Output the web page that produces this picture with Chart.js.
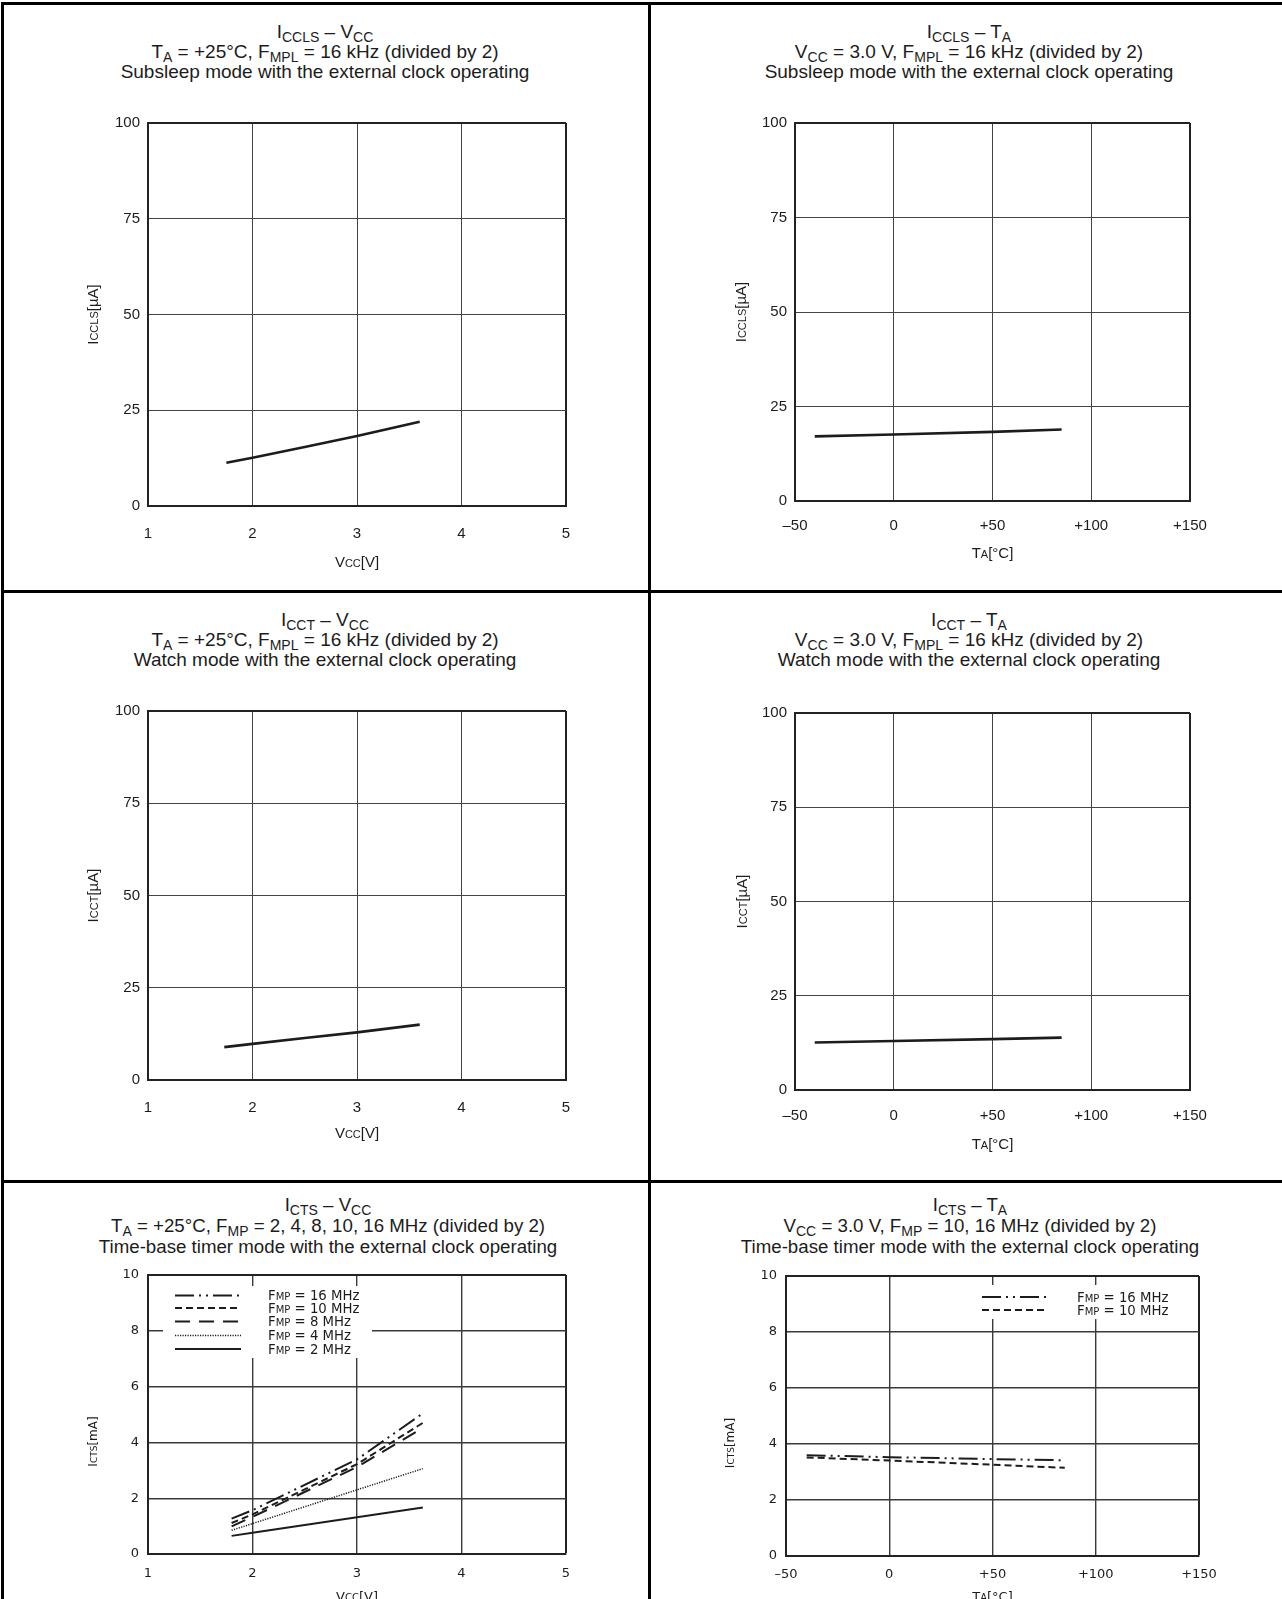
<!DOCTYPE html>
<html>
<head>
<meta charset="utf-8">
<title>ICC characteristics</title>
<script src="https://cdn.jsdelivr.net/npm/chart.js@4.4.1/dist/chart.umd.min.js"></script>
<style>
  html, body { margin: 0; padding: 0; background: #fff; }
  body { position: relative; width: 1282px; height: 1599px; overflow: hidden;
         font-family: "Liberation Sans", Arial, Helvetica, sans-serif; color: #1c1c1c; }
  .rule { position: absolute; background: #000; }
  .ttl { position: absolute; width: 620px; text-align: center; font-size: 19px; line-height: 20px; white-space: nowrap; }
  .ttl sub { font-size: 14px; line-height: 0; vertical-align: -4px; }
  .small { font-size: 18.7px; }
  canvas { position: absolute; }
</style>
</head>
<body>
<!-- table rules -->
<div class="rule" style="left:1px;top:2px;width:1281px;height:3px"></div>
<div class="rule" style="left:1px;top:2px;width:3px;height:1597px"></div>
<div class="rule" style="left:648px;top:2px;width:3px;height:1597px"></div>
<div class="rule" style="left:1px;top:590px;width:1281px;height:3px"></div>
<div class="rule" style="left:1px;top:1180px;width:1281px;height:3px"></div>

<!-- row 1 -->
<div class="ttl" style="left:15px;top:22px">I<sub>CCLS</sub> – V<sub>CC</sub></div>
<div class="ttl" style="left:15px;top:42px">T<sub>A</sub> = +25°C, F<sub>MPL</sub> = 16 kHz (divided by 2)</div>
<div class="ttl" style="left:15px;top:62px">Subsleep mode with the external clock operating</div>
<div class="ttl" style="left:659px;top:22px">I<sub>CCLS</sub> – T<sub>A</sub></div>
<div class="ttl" style="left:659px;top:42px">V<sub>CC</sub> = 3.0 V, F<sub>MPL</sub> = 16 kHz (divided by 2)</div>
<div class="ttl" style="left:659px;top:62px">Subsleep mode with the external clock operating</div>
<!-- row 2 -->
<div class="ttl" style="left:15px;top:610px">I<sub>CCT</sub> – V<sub>CC</sub></div>
<div class="ttl" style="left:15px;top:630px">T<sub>A</sub> = +25°C, F<sub>MPL</sub> = 16 kHz (divided by 2)</div>
<div class="ttl" style="left:15px;top:650px">Watch mode with the external clock operating</div>
<div class="ttl" style="left:659px;top:610px">I<sub>CCT</sub> – T<sub>A</sub></div>
<div class="ttl" style="left:659px;top:630px">V<sub>CC</sub> = 3.0 V, F<sub>MPL</sub> = 16 kHz (divided by 2)</div>
<div class="ttl" style="left:659px;top:650px">Watch mode with the external clock operating</div>
<!-- row 3 -->
<div class="ttl small" style="left:18px;top:1195px">I<sub>CTS</sub> – V<sub>CC</sub></div>
<div class="ttl small" style="left:18px;top:1216px">T<sub>A</sub> = +25°C, F<sub>MP</sub> = 2, 4, 8, 10, 16 MHz (divided by 2)</div>
<div class="ttl small" style="left:18px;top:1237px">Time-base timer mode with the external clock operating</div>
<div class="ttl small" style="left:660px;top:1195px">I<sub>CTS</sub> – T<sub>A</sub></div>
<div class="ttl small" style="left:660px;top:1216px">V<sub>CC</sub> = 3.0 V, F<sub>MP</sub> = 10, 16 MHz (divided by 2)</div>
<div class="ttl small" style="left:660px;top:1237px">Time-base timer mode with the external clock operating</div>

<script>
// tick labels
const vccTicks = ['1', '2', '3', '4', '5'];
const taTicks = ['–50', '0', '+50', '+100', '+150'];
const uaTicks = ['0', '25', '50', '75', '100'];
const maTicks = ['0', '2', '4', '6', '8', '10'];

// subsleep
const vccSubsleep = [1.75, 2.0, 2.5, 3.0, 3.6];
const icclsVcc = [11.3, 12.6, 15.4, 18.3, 22.0];
const taPoints = [-40, 0, 50, 85];
const icclsTa = [17.1, 17.6, 18.3, 18.9];

// watch
const vccWatch = [1.73, 2.0, 2.5, 3.0, 3.6];
const icctVcc = [8.9, 9.8, 11.4, 12.9, 15.0];
const icctTa = [12.6, 13.0, 13.5, 13.9];

// time-base timer (mA)
const fmpLabels = ['16 MHz', '10 MHz', '8 MHz', '4 MHz', '2 MHz'];
const vccTimer = [1.8, 2.0, 3.0, 3.63];
const ictsVcc16 = [1.27, 1.57, 3.39, 5.04];
const ictsVcc10 = [1.11, 1.42, 3.22, 4.70];
const ictsVcc8 = [0.99, 1.33, 3.12, 4.52];
const ictsVcc4 = [0.85, 1.09, 2.30, 3.06];
const ictsVcc2 = [0.65, 0.76, 1.32, 1.67];
const ictsTa16 = [3.60, 3.53, 3.46, 3.42];
const ictsTa10 = [3.52, 3.41, 3.26, 3.15];

const INK = '#1c1c1c';
const SANS = '"Liberation Sans", Arial, Helvetica, sans-serif';
const WIDE = '"DejaVu Sans", Verdana, sans-serif';

// line styles for the F_MP curves
const dash16 = [19, 5, 2, 5, 2, 5];
const dash10 = [7, 4];
const dash8 = [15, 9];
const dash4 = [1.2, 1.3];

function series(xs, ys) {
  return xs.map((x, i) => ({ x, y: ys[i] }));
}

// text in several sizes on one baseline (small caps / subscripts)
function drawRich(ctx, parts, x, y, opt) {
  const family = opt.family || SANS;
  ctx.save();
  ctx.translate(x, y);
  if (opt.rotate) ctx.rotate(-Math.PI / 2);
  let total = 0;
  const widths = parts.map(([t, s]) => {
    ctx.font = s + 'px ' + family;
    const w = ctx.measureText(t).width;
    total += w;
    return w;
  });
  const big = Math.max(...parts.map(p => p[1]));
  let cx = opt.align === 'left' ? 0 : -total / 2;
  ctx.textAlign = 'left';
  ctx.textBaseline = 'alphabetic';
  ctx.fillStyle = INK;
  parts.forEach(([t, s], i) => {
    ctx.font = s + 'px ' + family;
    ctx.fillText(t, cx, big * 0.36);
    cx += widths[i];
  });
  ctx.restore();
}

const axisTitles = {
  id: 'axisTitles',
  afterDraw(chart, args, o) {
    const { ctx, chartArea: a } = chart;
    drawRich(ctx, o.x, (a.left + a.right) / 2, a.bottom + o.xGap, { family: o.family });
    drawRich(ctx, o.y, a.left - o.yGap, (a.top + a.bottom) / 2 + (o.yShift || 0), { family: o.family, rotate: true });
  }
};

const lineKey = {
  id: 'lineKey',
  afterDatasetsDraw(chart, args, o) {
    if (!o.box) return;
    const { ctx, chartArea: a } = chart;
    ctx.save();
    ctx.fillStyle = '#fff';
    ctx.fillRect(a.left + o.box[0], a.top + o.box[1], o.box[2], o.box[3]);
    chart.data.datasets.forEach((ds, i) => {
      const y = a.top + o.rows[i];
      ctx.strokeStyle = ds.borderColor;
      ctx.lineWidth = ds.borderWidth;
      ctx.setLineDash(ds.borderDash || []);
      ctx.beginPath();
      ctx.moveTo(a.left + o.line[0], y);
      ctx.lineTo(a.left + o.line[1], y);
      ctx.stroke();
      ctx.setLineDash([]);
      drawRich(ctx, [['F', 13.3], ['MP', 10], [' = ' + ds.label, 13.3]], a.left + o.textX, y, { family: WIDE, align: 'left' });
    });
    ctx.restore();
  }
};

function buildChart(p) {
  const padL = 110, padT = 20, padR = 45, padB = 75;
  const w = padL + (p.R - p.L) + padR;
  const h = padT + (p.B - p.T) + padB;
  const cv = document.createElement('canvas');
  cv.width = w;
  cv.height = h;
  cv.style.left = (p.L - padL) + 'px';
  cv.style.top = (p.T - padT) + 'px';
  cv.style.width = w + 'px';
  cv.style.height = h + 'px';
  document.body.appendChild(cv);

  const axis = (a, size, pad, isX) => ({
    type: 'linear',
    min: a.min,
    max: a.max,
    afterFit: s => { if (isX) s.height = size; else s.width = size; },
    ticks: {
      stepSize: a.step,
      callback: (v, i) => a.labels[i],
      font: { family: p.font[0], size: p.font[1] },
      color: INK,
      padding: pad,
      maxRotation: 0,
      autoSkip: false
    },
    grid: {
      color: c => (c.tick && c.tick.value === a.max) ? '#222' : p.gridColor,
      lineWidth: c => (c.tick && c.tick.value === a.max) ? 2 : p.gridWidth,
      drawTicks: false
    },
    border: { display: true, color: '#222', width: 2 }
  });

  new Chart(cv, {
    type: 'scatter',
    data: {
      datasets: p.datasets.map(d => ({
        label: d.label,
        data: d.data,
        showLine: true,
        pointRadius: 0,
        borderColor: INK,
        borderWidth: d.width,
        borderDash: d.dash || [],
        fill: false,
        tension: 0
      }))
    },
    options: {
      responsive: false,
      animation: false,
      devicePixelRatio: 1,
      events: [],
      layout: { padding: { left: 0, top: padT, right: padR, bottom: 0 } },
      scales: {
        x: axis(p.x, padB, p.xPad, true),
        y: axis(p.y, padL, p.yPad, false)
      },
      plugins: {
        legend: { display: false },
        tooltip: { enabled: false },
        axisTitles: p.titles,
        lineKey: p.key || {}
      }
    },
    plugins: [axisTitles, lineKey]
  });
}

const vccAxis = { min: 1, max: 5, step: 1, labels: vccTicks };
const taAxis = { min: -50, max: 150, step: 50, labels: taTicks };
const uaAxis = { min: 0, max: 100, step: 25, labels: uaTicks };
const maAxis = { min: 0, max: 10, step: 2, labels: maTicks };

const vccTitle = [['V', 15], ['CC', 11], ['[V]', 15]];
const taTitle = [['T', 15], ['A', 11], ['[°C]', 15]];

buildChart({
  L: 148, T: 123, R: 566, B: 506, x: vccAxis, y: uaAxis,
  font: [SANS, 15], gridColor: '#444', gridWidth: 1, xPad: 19, yPad: 8,
  titles: { x: vccTitle, y: [['I', 15], ['CCLS', 11], ['[µA]', 15]], xGap: 56, yGap: 55 },
  datasets: [{ label: 'ICCLS', data: series(vccSubsleep, icclsVcc), width: 2.6 }]
});
buildChart({
  L: 795, T: 123, R: 1190, B: 501, x: taAxis, y: uaAxis,
  font: [SANS, 15], gridColor: '#444', gridWidth: 1, xPad: 16, yPad: 8,
  titles: { x: taTitle, y: [['I', 15], ['CCLS', 11], ['[µA]', 15]], xGap: 52, yGap: 54 },
  datasets: [{ label: 'ICCLS', data: series(taPoints, icclsTa), width: 2.6 }]
});
buildChart({
  L: 148, T: 711, R: 566, B: 1080, x: vccAxis, y: uaAxis,
  font: [SANS, 15], gridColor: '#444', gridWidth: 1, xPad: 19, yPad: 8,
  titles: { x: vccTitle, y: [['I', 15], ['CCT', 11], ['[µA]', 15]], xGap: 53, yGap: 55 },
  datasets: [{ label: 'ICCT', data: series(vccWatch, icctVcc), width: 2.6 }]
});
buildChart({
  L: 795, T: 713, R: 1190, B: 1090, x: taAxis, y: uaAxis,
  font: [SANS, 15], gridColor: '#444', gridWidth: 1, xPad: 17, yPad: 8,
  titles: { x: taTitle, y: [['I', 15], ['CCT', 11], ['[µA]', 15]], xGap: 54, yGap: 53 },
  datasets: [{ label: 'ICCT', data: series(taPoints, icctTa), width: 2.6 }]
});
buildChart({
  L: 148, T: 1275, R: 566, B: 1554, x: vccAxis, y: maAxis,
  font: [WIDE, 13], gridColor: '#3a3a3a', gridWidth: 1.4, xPad: 12, yPad: 9,
  titles: { family: WIDE, x: [['V', 13], ['CC', 10], ['[V]', 13]], y: [['I', 12], ['CTS', 9], ['[mA]', 12]], xGap: 42, yGap: 55, yShift: 27 },
  key: { box: [15, 11, 209, 72], line: [27, 93], textX: 120, rows: [20.5, 33, 46.5, 60.5, 74] },
  datasets: [
    { label: fmpLabels[0], data: series(vccTimer, ictsVcc16), width: 2, dash: dash16 },
    { label: fmpLabels[1], data: series(vccTimer, ictsVcc10), width: 2, dash: dash10 },
    { label: fmpLabels[2], data: series(vccTimer, ictsVcc8), width: 2, dash: dash8 },
    { label: fmpLabels[3], data: series(vccTimer, ictsVcc4), width: 1.5, dash: dash4 },
    { label: fmpLabels[4], data: series(vccTimer, ictsVcc2), width: 2 }
  ]
});
buildChart({
  L: 786, T: 1276, R: 1199, B: 1556, x: taAxis, y: maAxis,
  font: [WIDE, 13], gridColor: '#3a3a3a', gridWidth: 1.4, xPad: 11, yPad: 9,
  titles: { family: WIDE, x: [['T', 13], ['A', 10], ['[°C]', 13]], y: [['I', 12], ['CTS', 9], ['[mA]', 12]], xGap: 40, yGap: 56, yShift: 27 },
  key: { box: [184, 9, 215, 34], line: [196, 262], textX: 291, rows: [21, 34] },
  datasets: [
    { label: fmpLabels[0], data: series(taPoints, ictsTa16), width: 2, dash: dash16 },
    { label: fmpLabels[1], data: series(taPoints, ictsTa10), width: 2, dash: dash10 }
  ]
});
</script>
</body>
</html>
